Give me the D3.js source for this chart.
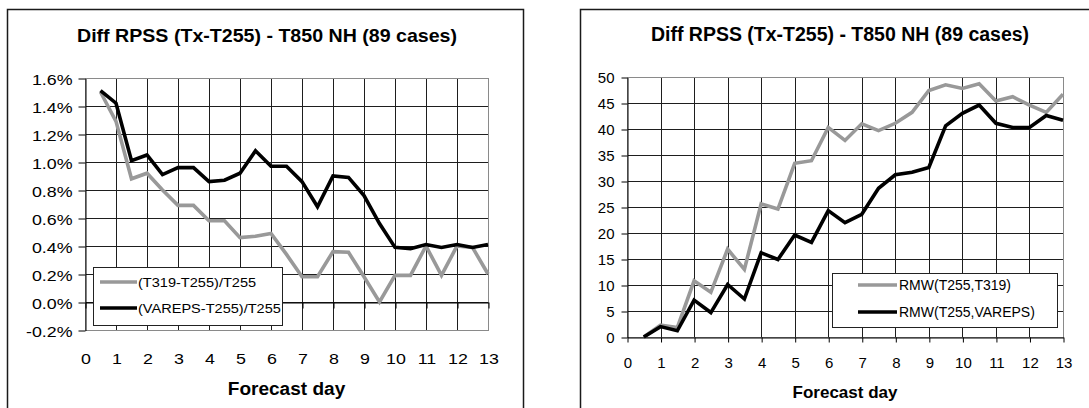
<!DOCTYPE html>
<html><head><meta charset="utf-8">
<script src="https://cdn.jsdelivr.net/npm/d3@7"></script>
<style>
body{margin:0;background:#fff}
svg{display:block}
text{font-family:"Liberation Sans",Arial,sans-serif;fill:#000}
</style>
</head><body>
<svg id="c" width="1089" height="408"></svg>
<script>
// ---------- data ----------
const days = [0.5,1,1.5,2,2.5,3,3.5,4,4.5,5,5.5,6,6.5,7,7.5,8,8.5,9,9.5,10,10.5,11,11.5,12,12.5,13];
const xTicks = [0,1,2,3,4,5,6,7,8,9,10,11,12,13];
const chartTitle = "Diff RPSS (Tx-T255) - T850 NH (89 cases)";
const xAxisTitle = "Forecast day";

const leftYTicks = [-0.2,0,0.2,0.4,0.6,0.8,1.0,1.2,1.4,1.6];
const leftT319   = [1.50,1.29,0.88,0.92,0.80,0.69,0.69,0.58,0.58,0.46,0.47,0.49,0.34,0.18,0.18,0.36,0.355,0.18,0.00,0.19,0.19,0.40,0.19,0.40,0.39,0.20];
const leftVareps = [1.51,1.42,1.01,1.05,0.91,0.96,0.96,0.86,0.87,0.92,1.08,0.97,0.97,0.86,0.68,0.90,0.89,0.76,0.56,0.39,0.38,0.41,0.39,0.41,0.39,0.41];
const leftNames  = ["(T319-T255)/T255","(VAREPS-T255)/T255"];

const rightYTicks = [0,5,10,15,20,25,30,35,40,45,50];
const rightT319   = [0,2.3,1.8,10.8,8.6,16.9,13.0,25.6,24.6,33.4,33.9,40.3,37.8,41.0,39.7,41.1,43.2,47.4,48.5,47.8,48.7,45.4,46.2,44.6,43.2,46.7];
const rightVareps = [0,2.0,1.2,7.1,4.7,10.1,7.3,16.2,14.9,19.6,18.2,24.3,22.0,23.6,28.6,31.2,31.7,32.6,40.6,43.0,44.6,41.1,40.3,40.3,42.6,41.7];
const rightNames  = ["RMW(T255,T319)","RMW(T255,VAREPS)"];

const seriesColors = ["#999999","#000000"];

// ---------- drawing ----------
const svg = d3.select("#c");

function txt(g, x, y, s, o) {
  return g.append("text")
    .attr("transform", `translate(${x},${y}) scale(${o.sx||1},1)`)
    .attr("text-anchor", o.anchor || "start")
    .attr("font-size", o.size)
    .attr("font-weight", o.weight || "normal")
    .text(s);
}

function drawChart(cfg) {
  const g = svg.append("g");
  // outer frame
  g.append("rect").attr("x", cfg.frame[0]+0.5).attr("y", cfg.frame[1]+0.5)
    .attr("width", cfg.frame[2]).attr("height", cfg.frame[3])
    .attr("fill", "#fff").attr("stroke", "#1a1a1a").attr("stroke-width", 1.5);

  const x = d3.scaleLinear().domain([0, 13]).range([cfg.plot[0], cfg.plot[1]]);
  const y = d3.scaleLinear().domain([cfg.yTicks[0], cfg.yTicks[cfg.yTicks.length-1]]).range([cfg.plot[3], cfg.plot[2]]);

  // gridlines
  const grid = g.append("g").attr("stroke", "#1e1e1e").attr("stroke-width", 1).attr("shape-rendering", "crispEdges");
  grid.selectAll(".h").data(cfg.yTicks).join("line")
    .attr("x1", x(0)).attr("x2", x(13)).attr("y1", d => Math.round(y(d))+0.5).attr("y2", d => Math.round(y(d))+0.5);
  grid.selectAll(".v").data(xTicks).join("line")
    .attr("y1", y.range()[1]).attr("y2", y.range()[0]).attr("x1", d => Math.round(x(d))+0.5).attr("x2", d => Math.round(x(d))+0.5);

  // plot border (gray)
  g.append("rect").attr("x", Math.round(x(0))+0.5).attr("y", Math.round(y.range()[1])+0.5)
    .attr("width", Math.round(x(13))-Math.round(x(0))).attr("height", Math.round(y.range()[0])-Math.round(y.range()[1]))
    .attr("fill", "none").attr("stroke", "#8a8a8a").attr("stroke-width", 1.2).attr("shape-rendering", "crispEdges");

  // y axis
  const ya = g.append("g").attr("transform", `translate(${Math.round(x(0))+0.5},0.5)`)
    .call(d3.axisLeft(y).tickValues(cfg.yTicks).tickSize(cfg.yTickLen).tickSizeOuter(0).tickFormat(cfg.yFmt));
  ya.select(".domain").attr("stroke", "#000");
  ya.selectAll(".tick line").attr("stroke", "#000");
  ya.selectAll(".tick text").attr("x", null).attr("dy", null)
    .attr("transform", `translate(${cfg.yLabelRight - Math.round(x(0))},${cfg.yLabelDy}) scale(${cfg.tickSx},1)`)
    .attr("text-anchor", "end").attr("font-size", cfg.tickSize).attr("font-family", null).attr("fill", "#000");

  // x axis (crosses at 0)
  const axisY = Math.round(y(Math.max(0, cfg.yTicks[0])));
  const xa = g.append("g").attr("transform", `translate(0.5,${axisY+0.5})`)
    .call(d3.axisBottom(x).tickValues(xTicks).tickSize(cfg.xTickLen).tickSizeOuter(0).tickFormat(d3.format("d")));
  xa.select(".domain").attr("stroke", "#000");
  xa.selectAll(".tick line").attr("stroke", "#000");
  xa.selectAll(".tick text").attr("y", null).attr("dy", null)
    .attr("transform", `translate(0,${cfg.xLabelBase - axisY}) scale(${cfg.tickSx},1)`)
    .attr("font-size", cfg.tickSize).attr("font-family", null).attr("fill", "#000");

  // lines
  const line = d3.line().x(d => x(d[0])).y(d => y(d[1]));
  cfg.series.forEach((s, i) => {
    g.append("path").datum(days.map((d, k) => [d, s[k]]))
      .attr("d", line).attr("fill", "none").attr("stroke", seriesColors[i])
      .attr("stroke-width", 3.6).attr("stroke-linejoin", "miter").attr("stroke-miterlimit", 3);
  });

  // legend
  const L = cfg.legend;
  g.append("rect").attr("x", L.box[0]+0.5).attr("y", L.box[1]+0.5).attr("width", L.box[2]).attr("height", L.box[3])
    .attr("fill", "#fff").attr("stroke", "#222").attr("stroke-width", 1);
  cfg.names.forEach((n, i) => {
    const cy = L.rows[i];
    g.append("line").attr("x1", L.sample[0]).attr("x2", L.sample[1]).attr("y1", cy).attr("y2", cy)
      .attr("stroke", seriesColors[i]).attr("stroke-width", 3.6);
    txt(g, L.textX, cy + L.size*0.36, n, {size: L.size, sx: L.sx});
  });

  // titles
  txt(g, cfg.titlePos[0], cfg.titlePos[1], chartTitle, {size: cfg.titleSize, weight: "bold", anchor: "middle", sx: cfg.titleSx});
  txt(g, (x(0)+x(13))/2, cfg.xTitleBase, xAxisTitle, {size: cfg.xTitleSize, weight: "bold", anchor: "middle", sx: cfg.xTitleSx});
}

drawChart({
  frame: [7, 9, 516, 500],
  plot: [85, 488, 78, 330],
  yTicks: leftYTicks,
  yFmt: d => d.toFixed(1) + "%",
  yTickLen: 7, xTickLen: 6,
  yLabelRight: 72, yLabelDy: 5.5,
  xLabelBase: 363,
  tickSize: 15.5, tickSx: 1.15,
  series: [leftT319, leftVareps],
  names: leftNames,
  legend: {box: [93, 267, 189, 58], rows: [282, 308], sample: [100, 137], textX: 138, size: 13, sx: 1.12},
  titlePos: [267, 42], titleSize: 18.5, titleSx: 1.06,
  xTitleBase: 395, xTitleSize: 18.5, xTitleSx: 1.03
});

drawChart({
  frame: [580, 9, 600, 500],
  plot: [627, 1063, 77, 337],
  yTicks: rightYTicks,
  yFmt: d3.format("d"),
  yTickLen: 6, xTickLen: 5,
  yLabelRight: 614, yLabelDy: 5.3,
  xLabelBase: 367,
  tickSize: 15, tickSx: 1.0,
  series: [rightT319, rightVareps],
  names: rightNames,
  legend: {box: [832, 273, 225, 54], rows: [285, 312], sample: [858, 897], textX: 899, size: 14, sx: 1.0},
  titlePos: [840, 41], titleSize: 19.5, titleSx: 1.0,
  xTitleBase: 398, xTitleSize: 17, xTitleSx: 1.0
});
</script>
</body></html>
